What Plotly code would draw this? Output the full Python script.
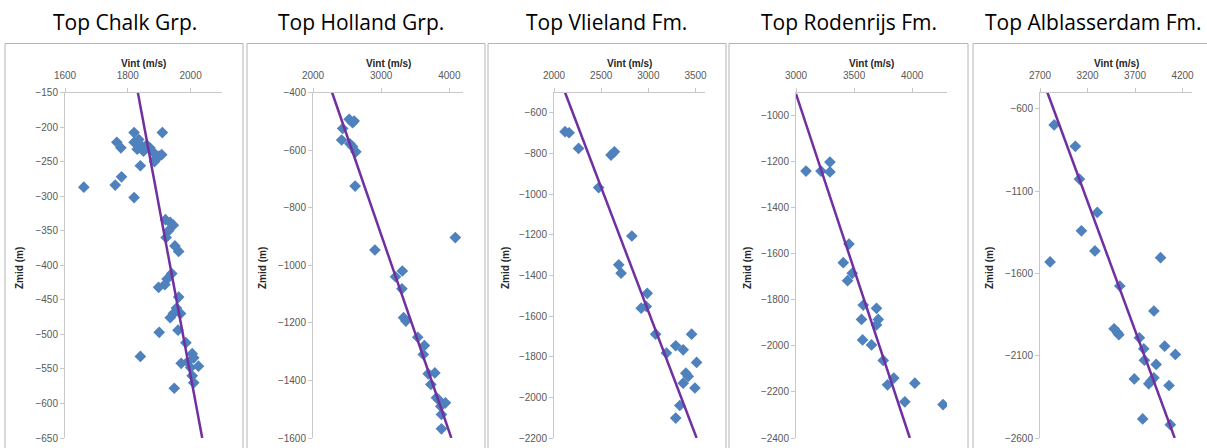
import plotly.graph_objects as go

W, H = 1207, 448

titles = ["Top Chalk Grp.", "Top Holland Grp.", "Top Vlieland Fm.", "Top Rodenrijs Fm.", "Top Alblasserdam Fm."]

# ---- Panel 1: Top Chalk Grp.
chalk_v = [1820, 1910, 1765, 1778, 1820, 1830, 1845, 1860, 1870, 1880, 1835, 1850, 1890, 1900, 1908,
           1885, 1840, 1780, 1760, 1660, 1820, 1920, 1935, 1945, 1930, 1922, 1950, 1962, 1940, 1925,
           1918, 1898, 1962, 1955, 1945, 1968, 1935, 1960, 1900, 1985, 2005, 2010, 1990, 1970, 2000,
           2025, 2005, 2010, 1840, 1948]
chalk_z = [-208, -208, -222, -230, -222, -232, -228, -226, -230, -236, -218, -235, -245, -242, -240,
           -250, -256, -272, -284, -287, -302, -334, -338, -342, -350, -360, -372, -380, -412, -420,
           -428, -432, -446, -462, -470, -470, -476, -494, -497, -512, -528, -534, -540, -542, -548,
           -546, -560, -570, -532, -578]
chalk_trend_v = [1832, 2037]
chalk_trend_z = [-150, -650]

# ---- Panel 2: Top Holland Grp.
holland_v = [2531, 2604, 2580, 2435, 2420, 2541, 2580, 2628, 2618, 2908, 4087, 3210, 3310, 3304,
             3328, 3362, 3536, 3633, 3618, 3690, 3787, 3729, 3811, 3845, 3874, 3942, 3884, 3884]
holland_z = [-493, -499, -505, -525, -565, -578, -588, -606, -725, -947, -904, -1040, -1020, -1082,
             -1182, -1194, -1250, -1279, -1310, -1377, -1374, -1414, -1460, -1468, -1490, -1478, -1518, -1568]
holland_trend_v = [2280, 4029]
holland_trend_z = [-400, -1600]

# ---- Panel 3: Top Vlieland Fm.
vlieland_v = [2117, 2160, 2260, 2604, 2640, 2473, 2825, 2686, 2711, 2988, 2924, 2978, 3077, 3458,
              3191, 3290, 3369, 3511, 3397, 3422, 3369, 3493, 3333, 3290]
vlieland_z = [-693, -698, -775, -808, -792, -968, -1206, -1348, -1389, -1488, -1561, -1553, -1689, -1689,
              -1782, -1746, -1766, -1828, -1881, -1897, -1930, -1954, -2040, -2102]
vlieland_trend_v = [2117, 3511]
vlieland_trend_z = [-500, -2200]

# ---- Panel 4: Top Rodenrijs Fm.
rodenrijs_v = [3086, 3215, 3292, 3292, 3456, 3407, 3484, 3444, 3579, 3693, 3564, 3708, 3693, 3573,
               3650, 3751, 3788, 3842, 4023, 3937, 4266]
rodenrijs_z = [-1241, -1241, -1245, -1202, -1558, -1639, -1685, -1717, -1823, -1837, -1885, -1885, -1909,
               -1974, -1996, -2063, -2169, -2140, -2162, -2243, -2255]
rodenrijs_trend_v = [3000, 3980]
rodenrijs_trend_z = [-906, -2400]

# ---- Panel 5: Top Alblasserdam Fm.
alblas_v = [2849, 3072, 3115, 3303, 3136, 3278, 2806, 3969, 3540, 3899, 3480, 3516, 3530, 3746, 3792,
            4012, 4125, 3799, 3923, 3693, 3899, 3870, 3845, 4058, 3781, 4072]
alblas_z = [-697, -827, -1026, -1229, -1341, -1463, -1530, -1504, -1676, -1828, -1936, -1960, -1972,
            -1991, -2058, -2042, -2092, -2127, -2153, -2241, -2234, -2252, -2271, -2281, -2484, -2519]
alblas_trend_v = [2778, 4118]
alblas_trend_z = [-500, -2600]

panels = [
    dict(v=chalk_v, z=chalk_z, tv=chalk_trend_v, tz=chalk_trend_z,
         xr=[1600, 2100], x0=1600, dx=200, yr=[-650, -150], y0=-650, dy=50, px=(65, 222)),
    dict(v=holland_v, z=holland_z, tv=holland_trend_v, tz=holland_trend_z,
         xr=[2000, 4200], x0=2000, dx=1000, yr=[-1600, -400], y0=-1600, dy=200, px=(313, 463)),
    dict(v=vlieland_v, z=vlieland_z, tv=vlieland_trend_v, tz=vlieland_trend_z,
         xr=[2000, 3600], x0=2000, dx=500, yr=[-2200, -500], y0=-2200, dy=200, px=(554, 705)),
    dict(v=rodenrijs_v, z=rodenrijs_z, tv=rodenrijs_trend_v, tz=rodenrijs_trend_z,
         xr=[3000, 4300], x0=3000, dx=500, yr=[-2400, -900], y0=-2400, dy=200, px=(796, 947)),
    dict(v=alblas_v, z=alblas_z, tv=alblas_trend_v, tz=alblas_trend_z,
         xr=[2700, 4300], x0=2700, dx=500, yr=[-2600, -500], y0=-2600, dy=500, px=(1040, 1192)),
]

title_cx = [125, 361, 606, 849, 1093]
boxes = [(5, 243), (247, 485), (488, 726), (729, 968), (973, 1210)]
ytitle_x = [19, 262, 505, 747, 989]

def fx(px):
    return px / W

def fy(py):
    return (H - py) / H

PLOT_TOP, PLOT_BOT = 92.5, 438

fig = go.Figure()
layout = dict(width=W, height=H, margin=dict(l=0, r=0, t=0, b=0, pad=0, autoexpand=False),
              paper_bgcolor="white", plot_bgcolor="white", showlegend=False)
annotations = []
shapes = []
tickfont = dict(family="Liberation Sans, Arial, sans-serif", size=10, color="#595959")

for i, p in enumerate(panels):
    n = "" if i == 0 else str(i + 1)
    xa, ya = "x" + n, "y" + n
    fig.add_trace(go.Scatter(x=p["v"], y=p["z"], mode="markers", xaxis=xa, yaxis=ya,
                             marker=dict(symbol="diamond", size=9, color="#4f81bd",
                                         line=dict(width=0))))
    fig.add_trace(go.Scatter(x=p["tv"], y=p["tz"], mode="lines", xaxis=xa, yaxis=ya,
                             line=dict(color="#7030a0", width=2.5)))
    layout["xaxis" + n] = dict(domain=[fx(p["px"][0]), fx(p["px"][1])], range=p["xr"],
                               side="top", anchor=ya, tick0=p["x0"], dtick=p["dx"],
                               showgrid=False, zeroline=False, showline=True,
                               linecolor="#c8c8c8", linewidth=1, ticks="outside",
                               ticklen=4, tickcolor="#c8c8c8", tickfont=tickfont,
                               ticklabelstandoff=5, automargin=False, fixedrange=True)
    layout["yaxis" + n] = dict(domain=[fy(PLOT_BOT), fy(PLOT_TOP)], range=p["yr"],
                               anchor=xa, tick0=p["y0"], dtick=p["dy"],
                               showgrid=False, zeroline=False, showline=True,
                               linecolor="#c8c8c8", linewidth=1, ticks="outside",
                               ticklen=4, tickcolor="#c8c8c8", tickfont=tickfont,
                               automargin=False, fixedrange=True)
    # panel title
    annotations.append(dict(text=titles[i], x=fx(title_cx[i]), y=fy(22), xref="paper", yref="paper",
                            showarrow=False, xanchor="center", yanchor="middle",
                            font=dict(family="Open Sans, Liberation Sans, sans-serif", size=21, color="black")))
    # x axis title
    cx = (p["px"][0] + p["px"][1]) / 2
    annotations.append(dict(text="<b>Vint (m/s)</b>", x=fx(cx), y=fy(63), xref="paper", yref="paper",
                            showarrow=False, xanchor="center", yanchor="middle",
                            font=dict(family="Liberation Sans, Arial, sans-serif", size=10, color="#262626")))
    # y axis title
    annotations.append(dict(text="<b>Zmid (m)</b>", x=fx(ytitle_x[i]), y=fy(268), xref="paper", yref="paper",
                            showarrow=False, xanchor="center", yanchor="middle", textangle=-90,
                            font=dict(family="Liberation Sans, Arial, sans-serif", size=10, color="#262626")))
    # chart border
    b = boxes[i]
    shapes.append(dict(type="rect", xref="paper", yref="paper", x0=fx(b[0]), x1=fx(b[1]),
                       y0=fy(452), y1=fy(43.5), line=dict(color="#b4b4b4", width=1),
                       fillcolor="rgba(0,0,0,0)", layer="below"))

layout["annotations"] = annotations
layout["shapes"] = shapes
fig.update_layout(**layout)
fig.write_html("out.html")
